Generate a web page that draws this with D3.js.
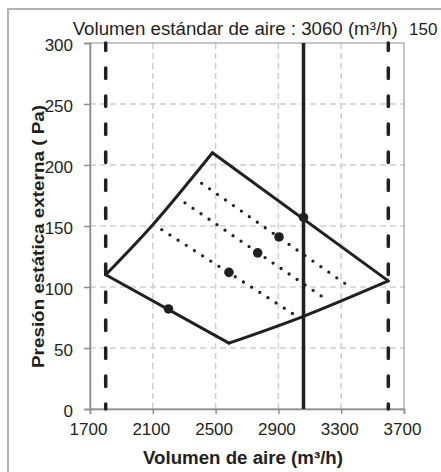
<!DOCTYPE html>
<html><head><meta charset="utf-8">
<script src="https://cdn.jsdelivr.net/npm/d3@7"></script>
<style>body{margin:0;background:#fff} text{font-family:"Liberation Sans",Arial,sans-serif;fill:#231f20}</style>
</head><body><svg id="c" width="441" height="472"></svg>
<script>
const xTicks=[1700,2100,2500,2900,3300,3700];
const yTicks=[0,50,100,150,200,250,300];
const limitVolumes=[1800,3600];
const standardVolume=3060;
const envelopeLeft=[[1800,110],[2100,151],[2480,210]];
const envelopeTop=[[2480,210],[3600,105]];
const envelopeBottomLeft=[[1800,110],[2585,54]];
const envelopeBottomRight=[[2585,54],[3060,76],[3600,105]];
const dottedLines=[
  [[2411,185],[3367,99]],
  [[2305,169],[3203,90]],
  [[2157,147],[3006,77]]
];
const markers=[[2200,82],[3060,157],[2904,141],[2768,128],[2585,112]];
const titleText="Volumen estándar de aire : 3060 (m³/h)";
const cornerText="150";
const xTitle="Volumen de aire (m³/h)";
const yTitle="Presión estática externa ( Pa)";

const svg=d3.select("#c");
const x=d3.scaleLinear([1700,3700],[90,404]);
const y=d3.scaleLinear([0,300],[409,43]);
const ink="#231f20";

// outer frame
svg.append("rect").attr("x",8).attr("y",9).attr("width",600).attr("height",600)
  .attr("fill","none").attr("stroke","#b3b3b3").attr("stroke-width",2);

// grid
svg.append("g").selectAll("line").data(xTicks.slice(1,-1)).join("line")
  .attr("x1",d=>x(d)).attr("x2",d=>x(d)).attr("y1",y(0)).attr("y2",y(300))
  .attr("stroke","#cfcfcf").attr("stroke-width",1.5).attr("stroke-dasharray","6 4");
svg.append("g").selectAll("line").data(yTicks.slice(1,-1)).join("line")
  .attr("y1",d=>y(d)).attr("y2",d=>y(d)).attr("x1",x(1700)).attr("x2",x(3700))
  .attr("stroke","#cfcfcf").attr("stroke-width",1.5).attr("stroke-dasharray","6 4");

// plot box
svg.append("rect").attr("x",x(1700)).attr("y",y(300)).attr("width",x(3700)-x(1700)).attr("height",y(0)-y(300))
  .attr("fill","none").attr("stroke","#8c8c8c").attr("stroke-width",1);

// axes
const xa=svg.append("g").attr("transform",`translate(0,${y(0)})`)
  .call(d3.axisBottom(x).tickValues(xTicks).tickFormat(d3.format("d")).tickSize(5).tickPadding(9));
const ya=svg.append("g").attr("transform",`translate(${x(1700)},0)`)
  .call(d3.axisLeft(y).tickValues(yTicks).tickSize(6).tickPadding(11));
[xa,ya].forEach(a=>{
  a.selectAll("path").attr("stroke","#8c8c8c").attr("stroke-width",1.5);
  a.selectAll("line").attr("stroke","#8c8c8c").attr("stroke-width",1.5);
  a.selectAll("text").attr("font-size",17).attr("font-family",null).style("fill",ink);
});
xa.selectAll("text").attr("dx",-2);
ya.selectAll("text").attr("dy","0.42em");

// limit dashed lines
svg.append("g").selectAll("line").data(limitVolumes).join("line")
  .attr("x1",d=>x(d)).attr("x2",d=>x(d)).attr("y1",y(300)).attr("y2",y(0))
  .attr("stroke",ink).attr("stroke-width",3.5).attr("stroke-linecap","round")
  .attr("stroke-dasharray","10.5 17.5").attr("stroke-dashoffset",3);
// standard line
svg.append("line").attr("x1",x(standardVolume)).attr("x2",x(standardVolume)).attr("y1",y(300)).attr("y2",y(0))
  .attr("stroke",ink).attr("stroke-width",3.5);

const lin=d3.line().x(d=>x(d[0])).y(d=>y(d[1]));
const crv=d3.line().x(d=>x(d[0])).y(d=>y(d[1])).curve(d3.curveCatmullRom);
const g=svg.append("g").attr("fill","none").attr("stroke",ink).attr("stroke-width",3)
  .attr("stroke-linejoin","miter").attr("stroke-linecap","round");
g.append("path").attr("d",crv(envelopeLeft));
g.append("path").attr("d",lin(envelopeTop));
g.append("path").attr("d",lin(envelopeBottomLeft));
g.append("path").attr("d",crv(envelopeBottomRight));

svg.append("g").selectAll("path").data(dottedLines).join("path")
  .attr("d",lin).attr("fill","none").attr("stroke",ink).attr("stroke-width",3.3)
  .attr("stroke-linecap","round").attr("stroke-dasharray","0 9.7");

svg.append("g").selectAll("circle").data(markers).join("circle")
  .attr("cx",d=>x(d[0])).attr("cy",d=>y(d[1])).attr("r",4.8).attr("fill",ink);

// texts
svg.append("text").attr("x",72.7).attr("y",35).attr("font-size",18)
  .attr("textLength",325).attr("lengthAdjust","spacingAndGlyphs").text(titleText);
svg.append("text").attr("x",409).attr("y",35).attr("font-size",17).text(cornerText);
svg.append("text").attr("x",243).attr("y",464).attr("font-size",18).attr("font-weight","bold")
  .attr("text-anchor","middle").attr("textLength",200).attr("lengthAdjust","spacingAndGlyphs").text(xTitle);
svg.append("text").attr("transform","translate(44,236.5) rotate(-90)").attr("font-size",17).attr("font-weight","bold")
  .attr("text-anchor","middle").attr("textLength",263).attr("lengthAdjust","spacingAndGlyphs").text(yTitle);
</script></body></html>
